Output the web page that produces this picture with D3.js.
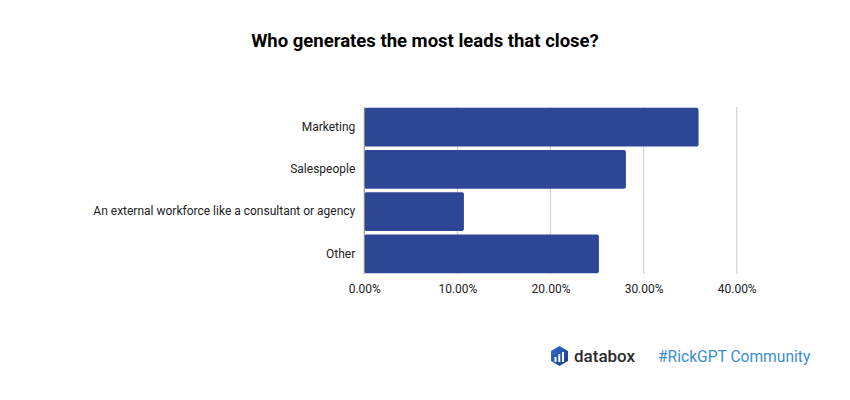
<!DOCTYPE html>
<html>
<head>
<meta charset="utf-8">
<script src="https://cdn.jsdelivr.net/npm/d3@7"></script>
<style>
  body { margin: 0; background: #fff; }
  svg { font-family: Roboto, "Noto Sans", sans-serif; }
</style>
</head>
<body>
<div id="chart"></div>
<script>
const categories = ['Marketing', 'Salespeople', 'An external workforce like a consultant or agency', 'Other'];
const shares = [35.9, 28.1, 10.7, 25.2];
const tickValues = [0, 10, 20, 30, 40];
const chartTitle = 'Who generates the most leads that close?';

const width = 850, height = 400;

const svg = d3.select('#chart').append('svg')
    .attr('width', width)
    .attr('height', height);

svg.append('text')
    .attr('x', 425)
    .attr('y', 47)
    .attr('text-anchor', 'middle')
    .attr('font-size', 18.5)
    .attr('font-weight', 'bold')
    .attr('fill', '#000')
    .text(chartTitle);

const x = d3.scaleLinear().domain([0, 40]).range([364.3, 736.7]);
const y = d3.scaleBand().domain(categories).range([106, 275]).paddingInner(0.08).paddingOuter(0.04);

// grid
svg.append('g')
    .selectAll('line')
    .data(tickValues.slice(1))
    .enter().append('line')
    .attr('x1', d => x(d)).attr('x2', d => x(d))
    .attr('y1', 107).attr('y2', 274)
    .attr('stroke', '#d6d6d6')
    .attr('stroke-width', 1.3);

svg.append('g')
    .selectAll('rect')
    .data(shares)
    .enter().append('rect')
    .attr('x', x(0))
    .attr('y', (d, i) => y(categories[i]))
    .attr('width', d => x(d) - x(0))
    .attr('height', y.bandwidth())
    .attr('rx', 2)
    .attr('fill', '#2e4795');

// baseline
svg.append('line')
    .attr('x1', x(0)).attr('x2', x(0))
    .attr('y1', 107).attr('y2', 274)
    .attr('stroke', '#888')
    .attr('stroke-width', 1);

const xAxis = svg.append('g')
    .attr('transform', 'translate(0,274)')
    .call(d3.axisBottom(x).tickValues(tickValues).tickSize(0).tickPadding(10)
        .tickFormat(d => d.toFixed(2) + '%'));
xAxis.select('.domain').remove();
xAxis.selectAll('text').attr('font-size', 12).attr('fill', '#222').attr('font-family', 'Roboto, sans-serif');

const yAxis = svg.append('g')
    .attr('transform', `translate(${x(0)},0)`)
    .call(d3.axisLeft(y).tickSize(0).tickPadding(9));
yAxis.select('.domain').remove();
yAxis.selectAll('text').attr('font-size', 12).attr('fill', '#222').attr('font-family', 'Roboto, sans-serif');

// footer brand
const brand = svg.append('g');
const grad = svg.append('defs').append('linearGradient')
    .attr('id', 'dbx').attr('x1', 0).attr('y1', 0).attr('x2', 1).attr('y2', 1);
grad.append('stop').attr('offset', '0%').attr('stop-color', '#2f6fd6');
grad.append('stop').attr('offset', '100%').attr('stop-color', '#1b3a8a');
brand.append('path')
    .attr('d', 'M559.5,346 L568,351 L568,361 L559.5,366 L551,361 L551,351 Z')
    .attr('fill', 'url(#dbx)');
[[554.5, 357, 5], [558.3, 354, 8], [562, 352, 10]].forEach(b => {
    brand.append('rect').attr('x', b[0]).attr('y', b[1]).attr('width', 2).attr('height', b[2])
        .attr('fill', '#fff');
});
brand.append('text')
    .attr('x', 574).attr('y', 362)
    .attr('font-size', 17)
    .attr('font-weight', 500)
    .attr('fill', '#2b2b2b')
    .text('databox');
brand.append('text')
    .attr('x', 658).attr('y', 362)
    .attr('font-size', 15.6)
    .attr('fill', '#3a8ed0')
    .text('#RickGPT Community');
</script>
</body>
</html>
